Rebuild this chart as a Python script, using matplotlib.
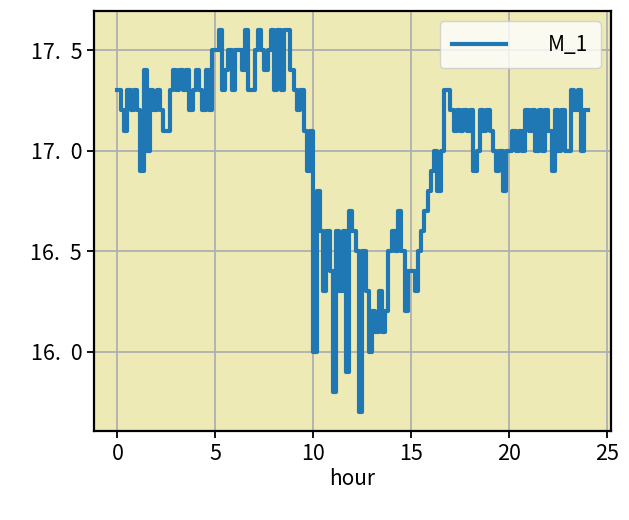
import numpy as np
import matplotlib
matplotlib.use("Agg")
import matplotlib.pyplot as plt

plt.rcParams['font.family'] = ['Noto Sans CJK JP', 'DejaVu Sans']

# temperature readings, every 10 minutes (6 per hour), hour 0 .. 24
temps = [
    17.3, 17.2, 17.1, 17.3, 17.2, 17.3,   # 0
    17.2, 16.9, 17.4, 17.0, 17.3, 17.2,   # 1
    17.3, 17.2, 17.1, 17.1, 17.3, 17.4,   # 2
    17.3, 17.4, 17.3, 17.4, 17.2, 17.3,   # 3
    17.4, 17.3, 17.2, 17.4, 17.2, 17.5,   # 4
    17.5, 17.6, 17.3, 17.4, 17.5, 17.3,   # 5
    17.5, 17.5, 17.4, 17.6, 17.3, 17.3,   # 6
    17.5, 17.6, 17.5, 17.4, 17.5, 17.6,   # 7
    17.3, 17.6, 17.3, 17.6, 17.6, 17.4,   # 8
    17.3, 17.2, 17.3, 17.1, 16.9, 17.1,   # 9
    16.0, 16.8, 16.6, 16.3, 16.6, 16.4,   # 10
    15.8, 16.6, 16.3, 16.6, 15.9, 16.7,   # 11
    16.6, 16.5, 15.7, 16.5, 16.3, 16.0,   # 12
    16.2, 16.1, 16.3, 16.1, 16.2, 16.5,   # 13
    16.6, 16.5, 16.7, 16.5, 16.2, 16.4,   # 14
    16.4, 16.3, 16.5, 16.6, 16.7, 16.8,   # 15
    16.9, 17.0, 16.8, 17.0, 17.3, 17.3,   # 16
    17.2, 17.1, 17.2, 17.1, 17.2, 17.1,   # 17
    17.2, 16.9, 17.0, 17.2, 17.1, 17.2,   # 18
    17.1, 17.0, 16.9, 17.0, 16.8, 17.0,   # 19
    17.0, 17.1, 17.0, 17.1, 17.0, 17.2,   # 20
    17.1, 17.2, 17.0, 17.2, 17.0, 17.2,   # 21
    17.1, 16.9, 17.2, 17.0, 17.2, 17.0,   # 22
    17.0, 17.3, 17.2, 17.3, 17.0, 17.2,   # 23
    17.2,                                 # 24
]
hours = np.arange(len(temps)) / 6.0

fig = plt.figure(figsize=(6.29, 5.2), dpi=100)
ax = fig.add_axes([0.1494, 0.1712, 0.822, 0.8076])
ax.set_facecolor('#edeab5')

ax.plot(hours, temps, color='#1f77b4', linewidth=3.0, label='M_1',
        drawstyle='steps-post', solid_joinstyle='round')

ax.grid(True, color='#b0b0b0', linewidth=1.3)
ax.set_axisbelow(True)
ax.set_xticks([0, 5, 10, 15, 20, 25])
ax.set_yticks([16.0, 16.5, 17.0, 17.5])
ax.set_yticklabels(['16.  0', '16.  5', '17.  0', '17.  5'])
ax.tick_params(labelsize=15.5, length=5, width=1.3)
for s in ax.spines.values():
    s.set_linewidth(1.6)
ax.set_xlabel('hour', fontsize=15, labelpad=2)

ax.legend(loc='upper right', fontsize=15, handlelength=2.6, handletextpad=2.0,
          borderpad=0.6)

fig.savefig('out.png', dpi=100)
